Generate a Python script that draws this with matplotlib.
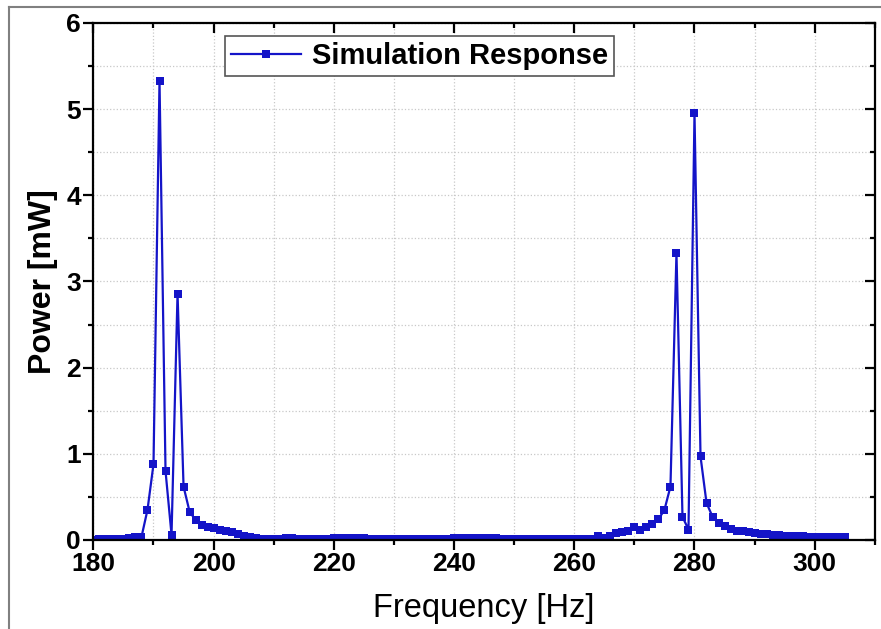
import matplotlib.pyplot as plt
from matplotlib.lines import Line2D
from matplotlib.ticker import MultipleLocator

plt.rcParams['font.family'] = ['Liberation Sans', 'DejaVu Sans']

# frequency [Hz], 1 Hz steps from 180 to 305
freq = list(range(180, 306))

# power [mW]
power = [
    0.005, 0.006, 0.008, 0.010, 0.012, 0.015, 0.020, 0.030, 0.035,  # 180-188
    0.35, 0.88, 5.33, 0.80, 0.06, 2.86, 0.62, 0.33, 0.23, 0.17,     # 189-198
    0.15, 0.14, 0.12, 0.11, 0.09, 0.07, 0.05, 0.03, 0.02, 0.01,     # 199-208
    0.01, 0.01, 0.01, 0.02, 0.02, 0.01, 0.01, 0.01, 0.01, 0.01,     # 209-218
    0.015, 0.02, 0.02, 0.02, 0.02, 0.02, 0.02, 0.015, 0.01, 0.01,   # 219-228
    0.01, 0.01, 0.01, 0.01, 0.01, 0.01, 0.01, 0.01, 0.01, 0.01,     # 229-238
    0.015, 0.02, 0.02, 0.02, 0.02, 0.02, 0.02, 0.02, 0.02, 0.015,   # 239-248
    0.01, 0.01, 0.01, 0.01, 0.01, 0.01, 0.01, 0.01, 0.01, 0.01,     # 249-258
    0.01, 0.01, 0.01, 0.01, 0.01, 0.05, 0.02, 0.05, 0.08, 0.09,     # 259-268
    0.10, 0.155, 0.12, 0.155, 0.19, 0.24, 0.35, 0.62, 3.33, 0.27,   # 269-278
    0.12, 4.95, 0.97, 0.43, 0.27, 0.20, 0.16, 0.13, 0.11, 0.10,     # 279-288
    0.09, 0.08, 0.07, 0.065, 0.06, 0.055, 0.05, 0.05, 0.045, 0.045, # 289-298
    0.04, 0.04, 0.035, 0.035, 0.04, 0.035, 0.03,                    # 299-305
]

series_label = 'Simulation Response'
x_ticks = [180, 200, 220, 240, 260, 280, 300]
y_ticks = [0, 1, 2, 3, 4, 5, 6]

fig = plt.figure(figsize=(8.81, 6.29), dpi=100)
ax = fig.add_axes([0.106, 0.1415, 0.887, 0.822])

blue = '#1414c8'
ax.plot(freq, power, color=blue, lw=1.6, marker='s', markersize=5.4,
        markeredgewidth=0, label=series_label)

ax.set_xlim(180, 310)
ax.set_ylim(0, 6)
ax.set_xticks(x_ticks)
ax.set_yticks(y_ticks)
ax.xaxis.set_minor_locator(MultipleLocator(10))
ax.yaxis.set_minor_locator(MultipleLocator(0.5))

ax.grid(True, which='both', color='#c8c8c8', linestyle=':', linewidth=0.9)
ax.set_axisbelow(True)

for s in ax.spines.values():
    s.set_linewidth(1.6)

ax.tick_params(which='major', direction='out', length=7, width=1.6,
               labelsize=19, pad=2)
ax.tick_params(which='minor', direction='out', length=3.5, width=1.6)
ax.tick_params(which='both', top=True, right=True)
for t in ax.xaxis.get_major_ticks() + ax.xaxis.get_minor_ticks():
    t.tick2line.set_marker(3)  # top ticks pointing inward
for t in ax.yaxis.get_major_ticks() + ax.yaxis.get_minor_ticks():
    t.tick2line.set_marker(0)  # right ticks pointing inward
for lab in ax.get_xticklabels() + ax.get_yticklabels():
    lab.set_fontweight('bold')

ax.set_xlabel('Frequency [Hz]', fontsize=23.5, labelpad=12)
ax.set_ylabel('Power [mW]', fontsize=23, fontweight='bold', labelpad=6)

leg = ax.legend(loc='upper left', bbox_to_anchor=(0.168, 0.975),
                borderaxespad=0, fancybox=False, framealpha=1,
                edgecolor='#555555', handlelength=2.4, markerscale=1.0,
                prop={'weight': 'bold', 'size': 21}, borderpad=0.2,
                handletextpad=0.4)
leg.get_frame().set_linewidth(1.2)

# thin gray frame of the original screenshot
fig.add_artist(Line2D([0.010, 0.010], [0, 0.989], color='#808080', lw=1.5))
fig.add_artist(Line2D([0.010, 1.0], [0.989, 0.989], color='#808080', lw=1.5))

fig.savefig('out.png', dpi=100)
